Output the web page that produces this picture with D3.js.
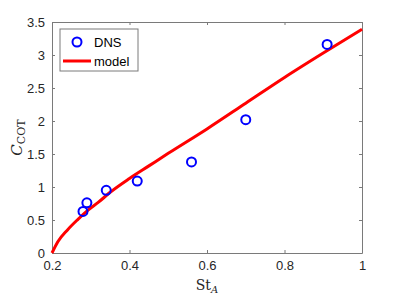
<!DOCTYPE html>
<html>
<head>
<meta charset="utf-8">
<script src="https://cdn.jsdelivr.net/npm/d3@7"></script>
<style>
  body { margin: 0; background: #fff; }
  .axis text { font-family: "Liberation Sans", Arial, sans-serif; font-size: 13px; fill: #262626; }
  .axis path, .axis line { stroke: #7a7a7a; }
</style>
</head>
<body>
<div id="chart"></div>
<script>
// DNS points
let dnsSt = [0.28, 0.29, 0.34, 0.42, 0.56, 0.70, 0.91];
let dnsC = [0.63, 0.76, 0.95, 1.09, 1.38, 2.02, 3.16];

// model curve
let modelSt = [0.2, 0.215, 0.24, 0.267, 0.293, 0.32, 0.35, 0.40, 0.45, 0.50, 0.60, 0.70, 0.80, 0.90, 1.0];
let modelC = [0, 0.17, 0.35, 0.51, 0.65, 0.77, 0.92, 1.13, 1.32, 1.51, 1.88, 2.27, 2.66, 3.03, 3.39];

let xTicks = [0.2, 0.4, 0.6, 0.8, 1];
let yTicks = [0, 0.5, 1, 1.5, 2, 2.5, 3, 3.5];

function skillchart(anchor, svgWidth = 399, svgHeight = 299) {
    let margin = {top: 22, right: 37, bottom: 46, left: 52},
        chartWidth = svgWidth - margin.left - margin.right,
        chartHeight = svgHeight - margin.top - margin.bottom;

    let x = d3.scaleLinear().domain([0.2, 1]).range([0, chartWidth]),
        y = d3.scaleLinear().domain([0, 3.5]).range([chartHeight, 0]);

    let svg = d3.select(anchor).append('svg')
        .attr('width', svgWidth)
        .attr('height', svgHeight)
        .append('g')
        .attr('transform', 'translate(' + margin.left + ',' + margin.top + ')');

    let fmt = d3.format('');

    svg.append('g')
        .attr('class', 'x axis')
        .attr('transform', 'translate(0,' + chartHeight + ')')
        .call(d3.axisBottom(x).tickValues(xTicks).tickFormat(fmt)
            .tickSizeInner(-3).tickSizeOuter(0).tickPadding(8));

    svg.append('g')
        .attr('class', 'x axis')
        .call(d3.axisTop(x).tickValues(xTicks).tickFormat('')
            .tickSizeInner(-3).tickSizeOuter(0));

    svg.append('g')
        .attr('class', 'y axis')
        .call(d3.axisLeft(y).tickValues(yTicks).tickFormat(fmt)
            .tickSizeInner(-3).tickSizeOuter(0).tickPadding(7));

    svg.append('g')
        .attr('class', 'y axis')
        .attr('transform', 'translate(' + chartWidth + ',0)')
        .call(d3.axisRight(y).tickValues(yTicks).tickFormat('')
            .tickSizeInner(-3).tickSizeOuter(0));

    let model = modelSt.map(function (s, i) { return {st: s, c: modelC[i]}; });
    let dns = dnsSt.map(function (s, i) { return {st: s, c: dnsC[i]}; });

    let line = d3.line()
        .curve(d3.curveMonotoneX)
        .x(function (d) { return x(d.st); })
        .y(function (d) { return y(d.c); });

    svg.append('path')
        .datum(model)
        .attr('d', line)
        .attr('fill', 'none')
        .attr('stroke', '#ff0000')
        .attr('stroke-width', 3);

    svg.selectAll('circle.dns').data(dns)
        .enter()
        .append('circle')
        .attr('class', 'dns')
        .attr('cx', function (d) { return x(d.st); })
        .attr('cy', function (d) { return y(d.c); })
        .attr('r', 4.5)
        .attr('fill', 'none')
        .attr('stroke', '#0000ff')
        .attr('stroke-width', 2);

    // axis labels
    svg.append('text')
        .attr('x', chartWidth / 2)
        .attr('y', chartHeight + 37)
        .attr('text-anchor', 'middle')
        .style('font-family', '"DejaVu Serif", serif')
        .style('font-size', '14px')
        .style('fill', '#262626')
        .html('St<tspan font-style="italic" font-size="10px" dy="3">A</tspan>');

    svg.append('text')
        .attr('transform', 'translate(-30,' + (chartHeight / 2) + ') rotate(-90)')
        .attr('text-anchor', 'middle')
        .style('font-family', '"DejaVu Serif", serif')
        .style('font-size', '15px')
        .style('fill', '#262626')
        .html('<tspan font-style="italic">C</tspan><tspan font-size="11px" dy="3">COT</tspan>');

    // legend
    let legend = svg.append('g').attr('transform', 'translate(8,7)');
    legend.append('rect')
        .attr('width', 78).attr('height', 42)
        .attr('fill', '#fff').attr('stroke', '#7a7a7a');
    legend.append('circle')
        .attr('cx', 17).attr('cy', 13).attr('r', 4.5)
        .attr('fill', 'none').attr('stroke', '#0000ff').attr('stroke-width', 2);
    legend.append('line')
        .attr('x1', 3).attr('x2', 31).attr('y1', 32).attr('y2', 32)
        .attr('stroke', '#ff0000').attr('stroke-width', 3);
    legend.selectAll('text.lg').data(['DNS', 'model'])
        .enter()
        .append('text')
        .attr('x', 34)
        .attr('y', function (d, i) { return i === 0 ? 18 : 37; })
        .style('font-family', '"Liberation Sans", Arial, sans-serif')
        .style('font-size', '13px')
        .style('fill', '#000')
        .text(function (d) { return d; });
}

skillchart('#chart');
</script>
</body>
</html>
